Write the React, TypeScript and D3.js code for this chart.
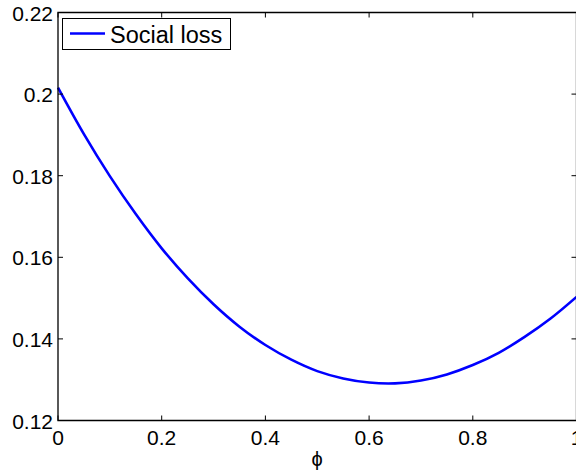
import React from "react";
import * as d3 from "d3";

const phi = [0, 0.05, 0.1, 0.15, 0.2, 0.25, 0.3, 0.35, 0.4, 0.45, 0.5, 0.55, 0.6, 0.65, 0.7, 0.75, 0.8, 0.85, 0.9, 0.95, 1.0];
const socialLoss = [0.2016, 0.1902, 0.1799, 0.1706, 0.1622, 0.1549, 0.1485, 0.1430, 0.1385, 0.1349, 0.1321, 0.1303, 0.1293, 0.1291, 0.1298, 0.1313, 0.1336, 0.1366, 0.1405, 0.1450, 0.1503];
const xTicks = [0, 0.2, 0.4, 0.6, 0.8, 1];
const yTicks = [0.12, 0.14, 0.16, 0.18, 0.2, 0.22];
const xTickLabels = ["0", "0.2", "0.4", "0.6", "0.8", "1"];
const yTickLabels = ["0.12", "0.14", "0.16", "0.18", "0.2", "0.22"];
const seriesName = "Social loss";
const xLabel = "ϕ";

const W = 576;
const H = 474;
const L = 58, R = 576.5, T = 12.5, B = 420.5;
const FONT = "'Liberation Sans', Arial, Helvetica, sans-serif";

export default function App() {
  const x = d3.scaleLinear().domain([0, 1]).range([L, R]);
  const y = d3.scaleLinear().domain([0.12, 0.22]).range([B, T]);
  const line = d3
    .line<number>()
    .x((_, i) => x(phi[i]))
    .y((d) => y(d))
    .curve(d3.curveCatmullRom.alpha(0.5));
  const tl = 5;
  return (
    <svg width={W} height={H} style={{ position: "absolute", left: 0, top: 0, background: "#fff" }}>
      <rect x={0} y={0} width={W} height={H} fill="#fff" />
      <path d={line(socialLoss) || ""} fill="none" stroke="#0000ff" strokeWidth={2.6} />
      <path d={`M${L},${T}H${R}V${B}H${L}Z`} fill="none" stroke="#000" strokeWidth={1.3} />
      {xTicks.map((t, i) => (
        <g key={"x" + i}>
          <line x1={x(t)} x2={x(t)} y1={B} y2={B - tl} stroke="#000" strokeWidth={1} />
          <line x1={x(t)} x2={x(t)} y1={T} y2={T + tl} stroke="#000" strokeWidth={1} />
          <text x={x(t)} y={445} textAnchor="middle" fontFamily={FONT} fontSize={21} fill="#000">
            {xTickLabels[i]}
          </text>
        </g>
      ))}
      {yTicks.map((t, i) => (
        <g key={"y" + i}>
          <line x1={L} x2={L + tl} y1={y(t)} y2={y(t)} stroke="#000" strokeWidth={1} />
          <line x1={R} x2={R - tl} y1={y(t)} y2={y(t)} stroke="#000" strokeWidth={1} />
          <text x={53} y={y(t) + 8} textAnchor="end" fontFamily={FONT} fontSize={21} fill="#000">
            {yTickLabels[i]}
          </text>
        </g>
      ))}
      <text x={317} y={466} textAnchor="middle" fontFamily={FONT} fontSize={20} fill="#000">
        {xLabel}
      </text>
      <rect x={62.5} y={18.5} width={168} height={31} fill="#fff" stroke="#000" strokeWidth={1} />
      <line x1={70} x2={105} y1={33.5} y2={33.5} stroke="#0000ff" strokeWidth={2.6} />
      <text x={110} y={43} fontFamily={FONT} fontSize={23.5} fill="#000">
        {seriesName}
      </text>
    </svg>
  );
}
